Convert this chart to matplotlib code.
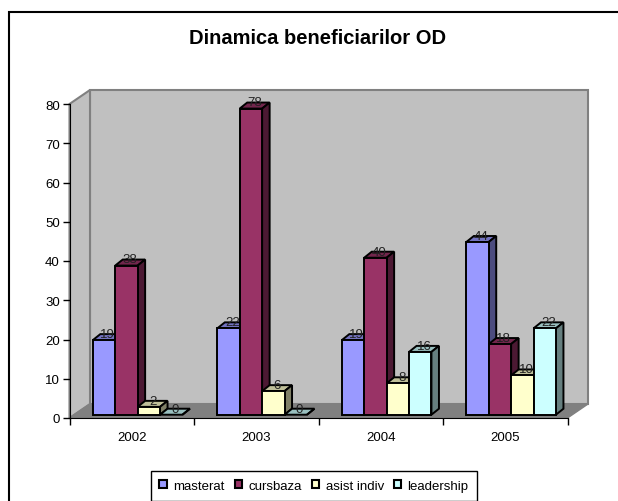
import matplotlib
matplotlib.use("Agg")
import matplotlib.pyplot as plt
from matplotlib.patches import Polygon, Rectangle

years = ["2002", "2003", "2004", "2005"]
masterat = [19, 22, 19, 44]
cursbaza = [38, 78, 40, 18]
asist_indiv = [2, 6, 8, 10]
leadership = [0, 0, 16, 22]
series_names = ["masterat", "cursbaza", "asist indiv", "leadership"]
yticks = [0, 10, 20, 30, 40, 50, 60, 70, 80]

plt.rcParams["font.family"] = ["Liberation Sans", "DejaVu Sans"]

series = [masterat, cursbaza, asist_indiv, leadership]
face = ["#9999FF", "#993366", "#FFFFCC", "#CCFFFF"]
top = ["#7272BF", "#72264C", "#BFBF99", "#99BFBF"]
side = ["#4C4C7F", "#4C1933", "#7F7F66", "#667F7F"]

W, H = 618, 502
fig = plt.figure(figsize=(W / 100, H / 100), dpi=100, facecolor="white")

# figure frame, only top and left show in the reference
frame = fig.add_axes([0, 0, 1, 1])
frame.set_xlim(0, W)
frame.set_ylim(H, 0)
frame.axis("off")
frame.plot([9, 9, 618], [H, 12.5, 12.5], color="black", lw=1.5, solid_joinstyle="miter")

# plot box in pixels: x 69.5..567.5, y 419..105
ax = fig.add_axes([69.5 / W, (H - 419) / H, 498 / W, 314 / H])
ax.set_xlim(0, 4)
ax.set_ylim(0, 80)
ax.patch.set_alpha(0)
for s in ["top", "right"]:
    ax.spines[s].set_visible(False)
ax.set_xticks(range(5))
ax.set_xticklabels([])
ax.set_yticks(yticks)
ax.tick_params(axis="y", length=5, width=1, labelsize=9.5, pad=2, colors="black")
ax.tick_params(axis="x", length=5, width=1, direction="out")
for i, y in enumerate(years):
    ax.text(i + 0.5, -4.85, y, ha="center", va="center", fontsize=9.5)

# depth of the box and of the bars, in data units
dx = 20.5 / 124.5
dy = 14 / 3.925
bx = 7.5 / 124.5
by = 6 / 3.925
grey = "#808080"
wall = "#C0C0C0"

ax.add_patch(Polygon([(dx, dy), (4 + dx, dy), (4 + dx, 80 + dy), (dx, 80 + dy)], closed=True,
                     fc=wall, ec=grey, lw=1.5, clip_on=False, zorder=1))
ax.add_patch(Polygon([(0, 0), (dx, dy), (dx, 80 + dy), (0, 80)], closed=True,
                     fc=wall, ec=grey, lw=1.5, clip_on=False, zorder=1.1))
ax.add_patch(Polygon([(0, 0), (4, 0), (4 + dx, dy), (dx, dy)], closed=True,
                     fc=grey, ec=grey, lw=1, clip_on=False, zorder=1.2))

# bars sit a bit behind the front edge of the floor
base = 0.84
shift = 4.7 / 124.5
start = 0.1495
width = 0.18
edge = dict(ec="black", lw=1.4, joinstyle="miter", clip_on=False)
z = 3
for i in range(len(years)):
    for j, vals in enumerate(series):
        v = vals[i]
        x0 = i + start + shift + j * width
        y1 = base + v
        ax.add_patch(Polygon([(x0, y1), (x0 + bx, y1 + by), (x0 + width + bx, y1 + by), (x0 + width, y1)],
                             closed=True, fc=top[j], zorder=z, **edge))
        ax.add_patch(Polygon([(x0 + width, base), (x0 + width + bx, base + by), (x0 + width + bx, y1 + by), (x0 + width, y1)],
                             closed=True, fc=side[j], zorder=z, **edge))
        if v > 0:
            ax.add_patch(Rectangle((x0, base), width, v, fc=face[j], zorder=z + 0.1, **edge))
        z += 0.2

for i in range(len(years)):
    for j, vals in enumerate(series):
        x0 = i + start + shift + j * width
        ax.text(x0 + width / 2 + bx / 2, base + vals[i] + by / 2 + 0.8, str(vals[i]),
                ha="center", va="center", fontsize=9.5, color="#222222", zorder=20)

fig.text(317.5 / W, 1 - 38 / H, "Dinamica beneficiarilor OD", ha="center", va="center",
         fontsize=14.5, fontweight="bold")

handles = [Rectangle((0, 0), 1, 1, fc=face[j], ec="black", lw=1.5) for j in range(4)]
leg = fig.legend(handles, series_names, loc="center", bbox_to_anchor=(314 / W, 1 - 487 / H), ncol=4,
                 fontsize=9.5, frameon=True, fancybox=False, edgecolor="black", framealpha=1,
                 handlelength=0.55, handleheight=0.55, handletextpad=0.5, columnspacing=0.75, borderpad=0.65,
                 borderaxespad=0)
leg.get_frame().set_linewidth(1)

fig.savefig("out.png", dpi=100, facecolor="white")
